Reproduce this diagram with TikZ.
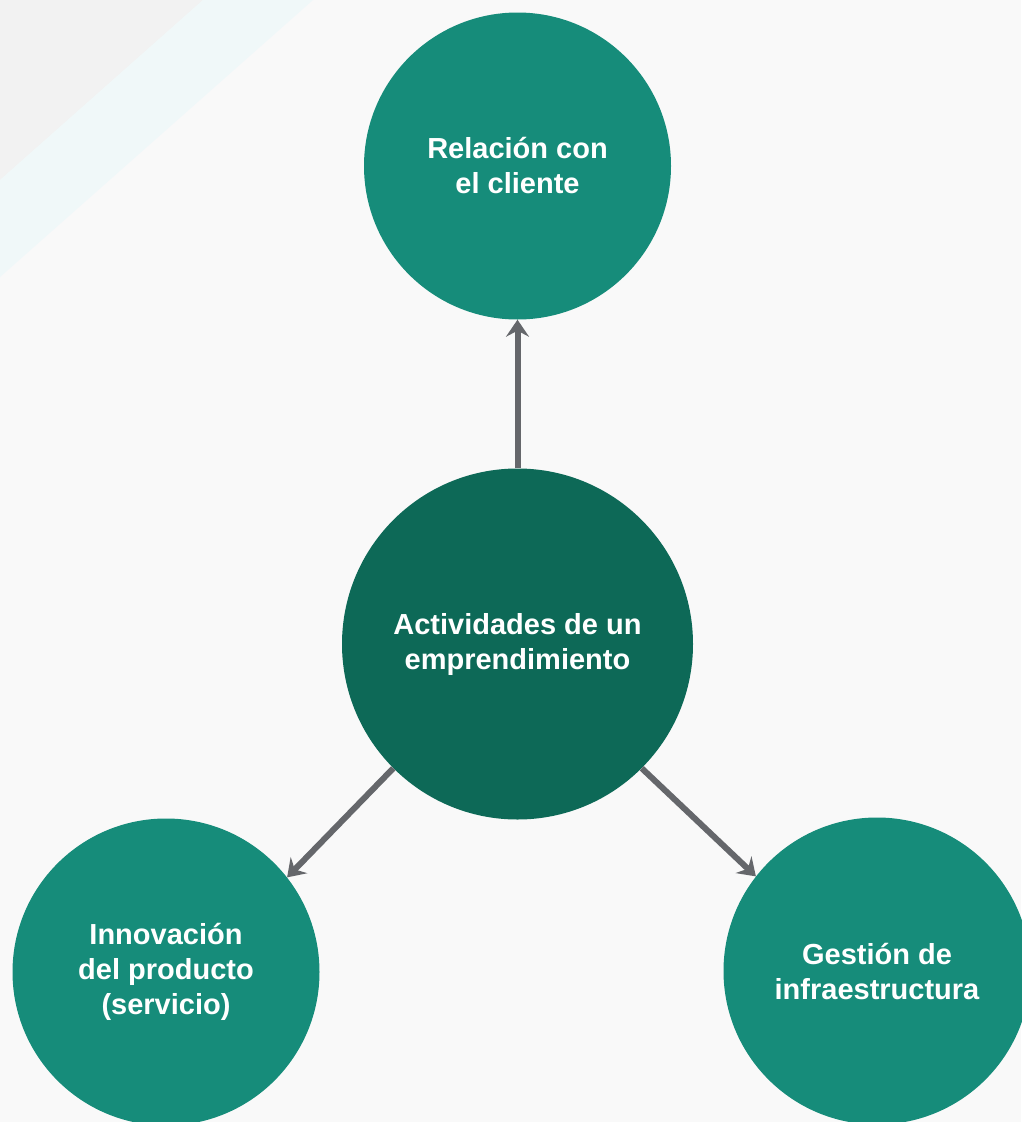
\documentclass[tikz,border=0pt]{standalone}
\usepackage{fontspec}
\setmainfont{Liberation Sans}
\usetikzlibrary{arrows.meta}
\definecolor{bgc}{HTML}{F9F9F9}
\definecolor{greyc}{HTML}{F2F2F2}
\definecolor{bandc}{HTML}{F0F8F9}
\definecolor{tealc}{HTML}{168C7A}
\definecolor{darkc}{HTML}{0D6957}
\definecolor{arrc}{HTML}{65676B}
\tikzset{
  circ/.style={circle, fill=tealc, minimum size=307pt, inner sep=0pt, text=white, font=\bfseries\fontsize{29}{35}\selectfont, align=center},
  centercirc/.style={circ, fill=darkc, minimum size=351pt},
  conn/.style={draw=arrc, line width=6pt, -{Stealth[length=17pt,width=23pt,inset=6pt]}}
}
\begin{document}
\begin{tikzpicture}[x=1pt,y=-1pt]
\useasboundingbox (0,0) rectangle (1021,1122);
\fill[bgc] (0,0) rectangle (1021,1122);
\fill[greyc] (0,0) -- (203,0) -- (0,180) -- cycle;
\fill[bandc] (203,0) -- (313,0) -- (0,277) -- (0,180) -- cycle;
\node[circ] (top) at (517.5,166) {Relación con\\el cliente};
\node[centercirc] (mid) at (517.5,644) {Actividades de un\\emprendimiento};
\node[circ] (left) at (166,972) {Innovación\\del producto\\(servicio)};
\node[circ] (right) at (877,971) {Gestión de\\infraestructura};
\draw[conn] (mid.90) -- (top.270);
\draw[conn] (mid.225) -- (left.38);
\draw[conn] (mid.315) -- (right.142);
\end{tikzpicture}
\end{document}
